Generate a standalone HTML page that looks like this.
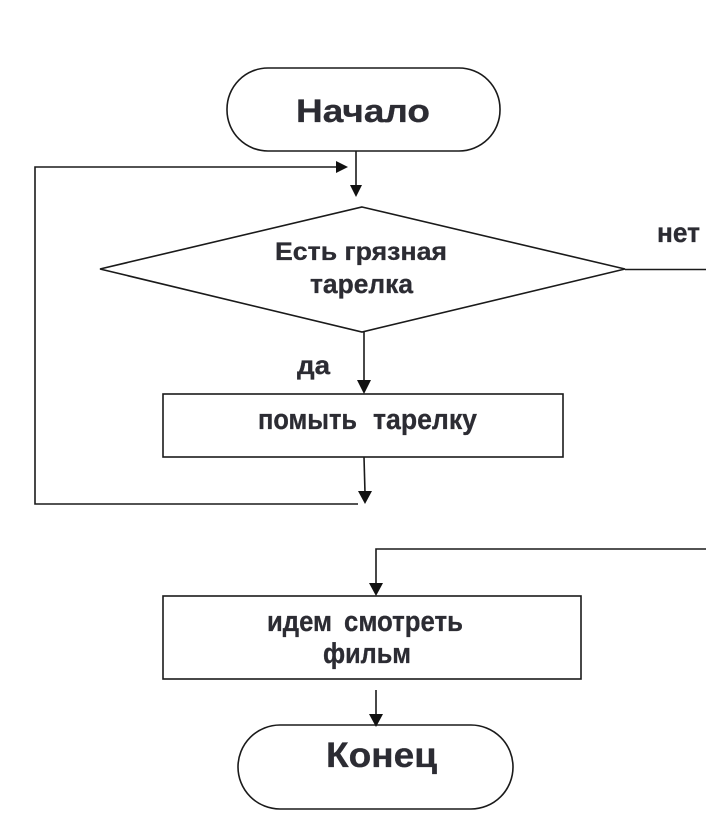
<!DOCTYPE html>
<html>
<head>
<meta charset="utf-8">
<style>
  html,body{margin:0;padding:0;background:#fff;}
  svg{display:block;}
  text{font-family:"Liberation Sans","DejaVu Sans",sans-serif;font-weight:bold;fill:#2c2c33;stroke:#2c2c33;stroke-width:0.3;}
</style>
</head>
<body>
<svg width="706" height="826" viewBox="0 0 706 826" xmlns="http://www.w3.org/2000/svg">
  <rect x="0" y="0" width="706" height="826" fill="#fff"/>
  <g fill="none" stroke="#1a1a1a" stroke-width="1.6">
    <rect x="227" y="68" width="273" height="83" rx="41" ry="41"/>
    <line x1="356" y1="151" x2="356" y2="187"/>
    <polyline points="358,504 35,504 35,167 338,167"/>
    <polygon points="362,207 625,269 362,332 100,269"/>
    <line x1="625" y1="269.5" x2="706" y2="269.5"/>
    <line x1="364" y1="332" x2="364" y2="382"/>
    <rect x="163" y="394" width="400" height="63"/>
    <line x1="364" y1="457" x2="365" y2="493"/>
    <polyline points="706,549 376,549 376,585"/>
    <rect x="163" y="596" width="418" height="83"/>
    <line x1="376" y1="690" x2="376" y2="716"/>
    <rect x="238" y="725" width="275" height="84" rx="42" ry="42"/>
  </g>
  <g fill="#111" stroke="none">
    <polygon points="350,185 362,185 356,197"/>
    <polygon points="336,161 336,173 348,167"/>
    <polygon points="357,380 371,380 364,394"/>
    <polygon points="358,491 372,491 365,504"/>
    <polygon points="369,583 383,583 376,596"/>
    <polygon points="369,714 383,714 376,727"/>
  </g>

  <text x="296" y="122" font-size="32" textLength="134" lengthAdjust="spacingAndGlyphs">Начало</text>
  <text x="275" y="260" font-size="25" textLength="172" lengthAdjust="spacingAndGlyphs">Есть грязная</text>
  <text x="310" y="293" font-size="27" textLength="103" lengthAdjust="spacingAndGlyphs">тарелка</text>
  <text x="657" y="242" font-size="28" textLength="43" lengthAdjust="spacingAndGlyphs">нет</text>
  <text x="297" y="374" font-size="26" textLength="33" lengthAdjust="spacingAndGlyphs">да</text>
  <text x="258" y="429" font-size="29" textLength="99" lengthAdjust="spacingAndGlyphs">помыть</text>
  <text x="373" y="429" font-size="29" textLength="104" lengthAdjust="spacingAndGlyphs">тарелку</text>
  <text x="267" y="631" font-size="29" textLength="65" lengthAdjust="spacingAndGlyphs">идем</text>
  <text x="344" y="631" font-size="29" textLength="119" lengthAdjust="spacingAndGlyphs">смотреть</text>
  <text x="323" y="663" font-size="29" textLength="88" lengthAdjust="spacingAndGlyphs">фильм</text>
  <text x="326" y="767" font-size="35" textLength="111" lengthAdjust="spacingAndGlyphs">Конец</text>
</svg>
</body>
</html>
